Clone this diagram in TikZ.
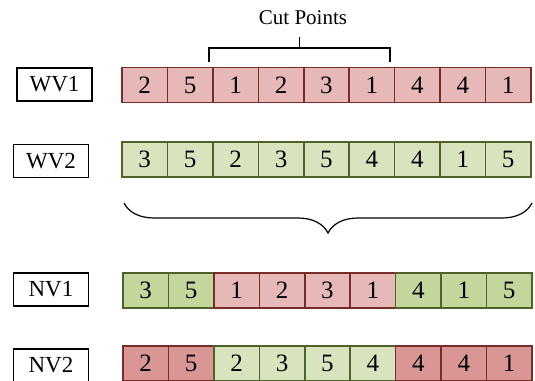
\documentclass[tikz,border=0pt]{standalone}
\usepackage{fontspec}
\setmainfont{Liberation Serif}
\usetikzlibrary{decorations.pathreplacing}
\definecolor{redfill}{HTML}{E6B9B8}
\definecolor{redfillB}{HTML}{D99694}
\definecolor{redline}{HTML}{772C2A}
\definecolor{greenfill}{HTML}{D7E4BD}
\definecolor{greenfillB}{HTML}{C3D69B}
\definecolor{greenline}{HTML}{4F6228}
\tikzset{
  lab/.style={draw=black, line width=1.3pt, minimum width=75pt, minimum height=33pt, inner sep=0pt, font=\fontsize{23}{23}\selectfont},
  cell/.style={line width=1.6pt, minimum width=45.4pt, minimum height=35pt, inner sep=0pt, font=\fontsize{25}{25}\selectfont},
  rc/.style={cell, draw=redline, fill=redfill},
  rcB/.style={cell, draw=redline, fill=redfillB},
  gc/.style={cell, draw=greenline, fill=greenfill},
  gcB/.style={cell, draw=greenline, fill=greenfillB},
}
\begin{document}
\begin{tikzpicture}[x=1pt,y=-1pt]
\useasboundingbox (0,0) rectangle (535,380);
% labels
\node[lab] (wv1) at (54.5,84.5) {WV1};
\node[lab] (wv2) at (51,161) {WV2};
\node[lab] (nv1) at (51,289.5) {NV1};
\node[lab] (nv2) at (51,365.5) {NV2};
% rows
\foreach \v [count=\i] in {2,5,1,2,3,1,4,4,1}
  \node[rc] (a\i) at ({122+45.44*(\i-0.5)},85) {\v};
\foreach \v [count=\i] in {3,5,2,3,5,4,4,1,5}
  \node[gc] (b\i) at ({122+45.44*(\i-0.5)},159.5) {\v};
\foreach \v/\s [count=\i] in {3/gcB,5/gcB,1/rc,2/rc,3/rc,1/rc,4/gcB,1/gcB,5/gcB}
  \node[\s] (c\i) at ({123+45.44*(\i-0.5)},290.5) {\v};
\foreach \v/\s [count=\i] in {2/rcB,5/rcB,2/gc,3/gc,5/gc,4/gc,4/rcB,4/rcB,1/rcB}
  \node[\s] (d\i) at ({123+45.44*(\i-0.5)},363.5) {\v};
% cut points bracket
\node[font=\fontsize{21}{21}\selectfont] (cut) at (303,18) {Cut Points};
\coordinate (bl) at (209,62);
\coordinate (br) at (390,62);
\coordinate (bm) at (299.5,48);
\draw[line width=1.2pt] (bl) -- (209,48) -- (390,48) -- (br);
\draw[line width=1.2pt] (bm) -- (299.5,37);
% big brace
\coordinate (braceR) at (532,203);
\coordinate (braceL) at (124,203);
\draw[line width=1.2pt, decorate, decoration={brace, amplitude=30pt}] (braceR) -- (braceL);
\end{tikzpicture}
\end{document}
